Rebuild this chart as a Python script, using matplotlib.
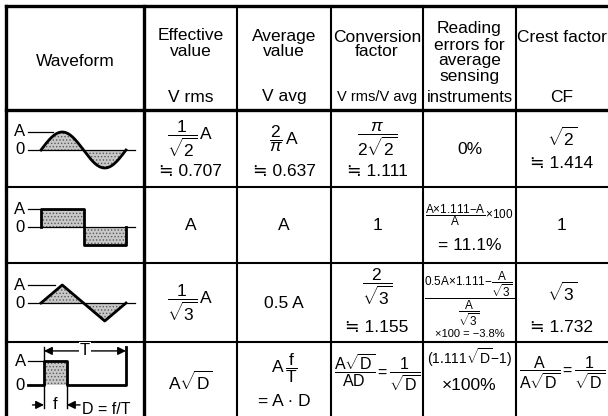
import numpy as np
import matplotlib.pyplot as plt

plt.rcParams['font.family'] = ['Liberation Sans', 'DejaVu Sans']
plt.rcParams['mathtext.fontset'] = 'custom'
plt.rcParams['mathtext.rm'] = 'Liberation Sans'
plt.rcParams['mathtext.it'] = 'Liberation Sans:italic'
plt.rcParams['mathtext.bf'] = 'Liberation Sans:bold'
plt.rcParams['mathtext.default'] = 'regular'
plt.rcParams['hatch.linewidth'] = 0.6

W, H = 608, 416

# table grid (pixels)
col_edges = [6, 144, 237, 331, 423, 516, 620]
row_edges = [6, 110, 187, 263, 342, 430]
thick_cols = [6, 144]
thick_rows = [6, 110]

# header text: (line, y, fontsize)
headers = [
    [("Waveform", 62, 12.5)],
    [("Effective", 36, 12.5), ("value", 52, 12.5), ("V rms", 97, 12.5)],
    [("Average", 36, 12.5), ("value", 52, 12.5), ("V avg", 97, 12.5)],
    [("Conversion", 37, 12.5), ("factor", 52, 12.5), ("V rms/V avg", 97, 10.5)],
    [("Reading", 29, 12.5), ("errors for", 45, 12.5), ("average", 61, 12.5),
     ("sensing", 77, 12.5), ("instruments", 97, 12)],
    [("Crest factor", 37, 12.5), ("CF", 97, 12.5)],
]

# body cells per column: (text, y, fontsize)
effective_value = [
    [(r"$\dfrac{1}{\sqrt{2}}\,A$", 139, 12.5), ("≒ 0.707", 172, 12.5)],
    [("A", 225, 12.5)],
    [(r"$\dfrac{1}{\sqrt{3}}\,A$", 303, 12.5)],
    [(r"$A\sqrt{D}$", 381, 12.5)],
]
average_value = [
    [(r"$\dfrac{2}{\mathit{\pi}}\,A$", 139, 12.5), ("≒ 0.637", 172, 12.5)],
    [("A", 225, 12.5)],
    [("0.5 A", 303, 12.5)],
    [(r"$A\,\dfrac{f}{T}$", 368, 12.5), ("= A · D", 401, 12.5)],
]
conversion_factor = [
    [(r"$\dfrac{\mathit{\pi}}{2\sqrt{2}}$", 139, 12.5), ("≒ 1.111", 172, 12.5)],
    [("1", 225, 12.5)],
    [(r"$\dfrac{2}{\sqrt{3}}$", 287, 12.5), ("≒ 1.155", 327, 12.5)],
    [(r"$\dfrac{A\sqrt{D}}{AD}=\dfrac{1}{\sqrt{D}}$", 373, 11.5)],
]
reading_error = [
    [("0%", 150, 12.5)],
    [(r"$\dfrac{A{\times}1.111{-}A}{A}{\times}100$", 215, 8.5), ("= 11.1%", 245, 12.5)],
    [(r"$\dfrac{0.5A{\times}1.111{-}\dfrac{A}{\sqrt{3}}}{\dfrac{A}{\sqrt{3}}}$", 299, 8.5),
     ("×100 = −3.8%", 334, 8)],
    [(r"$(1.111\sqrt{D}{-}1)$", 358, 10), ("×100%", 386, 12.5)],
]
crest_factor = [
    [(r"$\sqrt{2}$", 137, 12.5), ("≒ 1.414", 163, 12.5)],
    [("1", 225, 12.5)],
    [(r"$\sqrt{3}$", 292, 12.5), ("≒ 1.732", 327, 12.5)],
    [(r"$\dfrac{A}{A\sqrt{D}}=\dfrac{1}{\sqrt{D}}$", 373, 11.5)],
]
body = [effective_value, average_value, conversion_factor, reading_error, crest_factor]

# waveforms (time in periods, amplitude in units of A)
sine_t = np.linspace(0, 1, 200)
sine_v = np.sin(2 * np.pi * sine_t)
square_t = [0, 0, 0.5, 0.5, 1, 1]
square_v = [0, 1, 1, -1, -1, 0]
tri_t = [0, 0.25, 0.75, 1]
tri_v = [0, 1, -1, 0]
pulse_t = [-0.195, 0, 0, 0.28, 0.28, 1, 1]
pulse_v = [0, 0, 1, 1, 0, 0, 1.58]
duty = 0.28

fig = plt.figure(figsize=(W / 100, H / 100), dpi=100)
ax = fig.add_axes([0, 0, 1, 1])
ax.set_xlim(0, W)
ax.set_ylim(H, 0)
ax.axis('off')

for x in col_edges:
    ax.plot([x, x], [row_edges[0], row_edges[-1]], color='black',
            lw=2.4 if x in thick_cols else 1.5, solid_capstyle='projecting')
for y in row_edges:
    ax.plot([col_edges[0], col_edges[-1]], [y, y], color='black',
            lw=2.4 if y in thick_rows else 1.5, solid_capstyle='projecting')

centers = [(col_edges[i] + col_edges[i + 1]) / 2 for i in range(6)]
centers[-1] = 562

for i, lines in enumerate(headers):
    for txt, y, fs in lines:
        ax.text(centers[i], y, txt, ha='center', va='center', fontsize=fs)

for c, column in enumerate(body):
    for r, cell in enumerate(column):
        for txt, y, fs in cell:
            ax.text(centers[c + 1], y, txt, ha='center', va='center', fontsize=fs)

fill_kw = dict(facecolor='#c8c8c8', edgecolor='#5a5a5a', hatch='.....', linewidth=0)


def wave_axes(y0, amp_px, x_start=41, x_end=126):
    a = fig.add_axes([x_start / W, 1 - (y0 + amp_px) / H,
                      (x_end - x_start) / W, 2 * amp_px / H])
    a.set_xlim(0, 1)
    a.set_ylim(-1, 1)
    a.axis('off')
    return a


def labels(a, top_end, zero_end=1.1):
    a.text(-0.25, 1, "A", ha='center', va='center', fontsize=12, clip_on=False)
    a.text(-0.25, 0, "0", ha='center', va='center', fontsize=12, clip_on=False)
    a.plot([-0.15, top_end], [1, 1], color='black', lw=0.9, clip_on=False)
    a.plot([-0.15, zero_end], [0, 0], color='black', lw=0.9, clip_on=False)


# sine
a1 = wave_axes(150, 18)
labels(a1, 0.14)
a1.fill_between(sine_t, sine_v, 0, **fill_kw)
a1.plot(sine_t, sine_v, color='black', lw=2, clip_on=False)

# square
a2 = wave_axes(227, 18)
labels(a2, 0.0)
a2.fill_between(square_t, square_v, 0, **fill_kw)
a2.plot(square_t, square_v, color='black', lw=2, clip_on=False)

# triangle
a3 = wave_axes(303, 18)
labels(a3, 0.16)
a3.fill_between(tri_t, tri_v, 0, **fill_kw)
a3.plot(tri_t, tri_v, color='black', lw=2, clip_on=False)

# pulse
a4 = fig.add_axes([44 / W, 1 - 385 / H, 82 / W, 24 / H])
a4.set_xlim(0, 1)
a4.set_ylim(0, 1)
a4.axis('off')
a4.text(-0.29, 1, "A", ha='center', va='center', fontsize=12, clip_on=False)
a4.text(-0.29, 0, "0", ha='center', va='center', fontsize=12, clip_on=False)
a4.plot([-0.195, 0], [1, 1], color='black', lw=0.9, clip_on=False)
a4.fill_between([0, duty], [1, 1], 0, **fill_kw)
a4.plot(pulse_t, pulse_v, color='black', lw=2, clip_on=False)
a4.plot([0, 0], [1, 1.58], color='black', lw=1, clip_on=False)
arrow_kw = dict(color='black', lw=1, mutation_scale=12, shrinkA=0, shrinkB=0)
a4.annotate('', xy=(0, 1.42), xytext=(1, 1.42),
            arrowprops=dict(arrowstyle='<|-|>', **arrow_kw), annotation_clip=False)
a4.text(0.5, 1.42, "T", ha='center', va='center', fontsize=12,
        bbox=dict(facecolor='white', edgecolor='none', pad=1), clip_on=False)
a4.plot([0, 0], [0, -0.95], color='black', lw=1, clip_on=False)
a4.plot([duty, duty], [0, -0.95], color='black', lw=1, clip_on=False)
a4.annotate('', xy=(0, -0.83), xytext=(-0.14, -0.83),
            arrowprops=dict(arrowstyle='-|>', **arrow_kw), annotation_clip=False)
a4.annotate('', xy=(duty, -0.83), xytext=(duty + 0.16, -0.83),
            arrowprops=dict(arrowstyle='-|>', **arrow_kw), annotation_clip=False)
a4.text(duty / 2, -0.83, "f", ha='center', va='center', fontsize=12, clip_on=False)
a4.text(0.46, -1.0, "D = f/T", ha='left', va='center', fontsize=11.5, clip_on=False)

fig.savefig('out.png', dpi=100)
